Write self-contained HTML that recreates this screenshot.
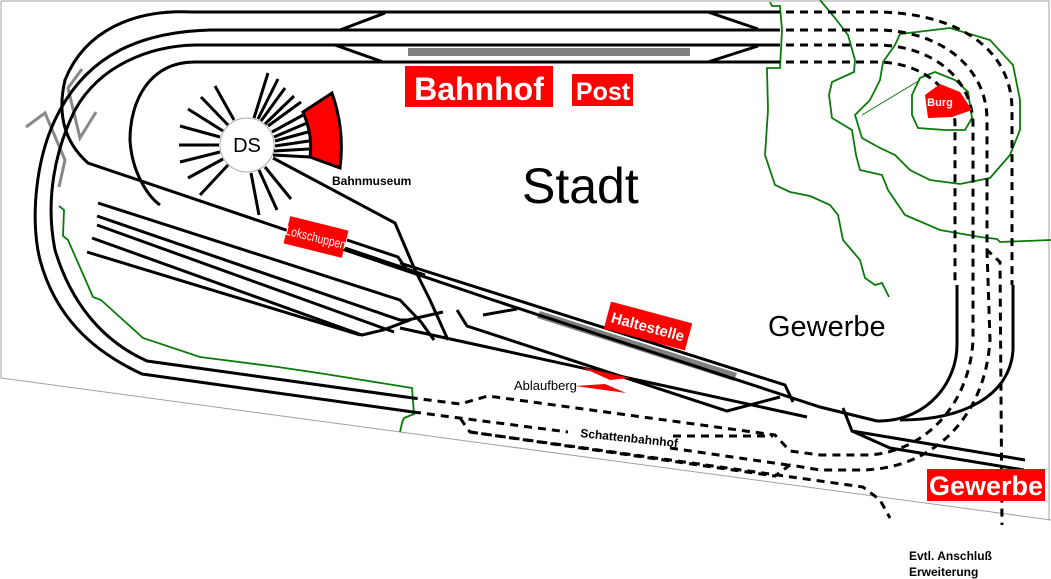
<!DOCTYPE html>
<html><head><meta charset="utf-8"><style>
html,body{margin:0;padding:0;background:#fff;width:1051px;height:579px;overflow:hidden}
svg{display:block}
text{font-family:"Liberation Sans",sans-serif}
</style></head><body>
<svg width="1051" height="579" viewBox="0 0 1051 579" xmlns="http://www.w3.org/2000/svg">
<g stroke="#a0a0a0" stroke-width="1" fill="none">
<path d="M1,1 L1049,1 L1049,520 M1,1 L1,378 L1051,520"/>
</g>
<g stroke="#0a7a0a" stroke-width="1.8" fill="none">
<path d="M59,206 L64,210 L63,236 L68,240 L93,297 L101,300 L143,338 L200,357 L278,367 L325,374 L412,388 L414,414 L404,418 L402,423 L400,432"/>
<path d="M770,2 L772,6 L780,6 L782,30 L780,68 L767,68 L767,70 L768,110 L765,155 L775,185 L790,192 L810,196 L830,205 L838,215 L843,240 L860,260 L865,278 L875,285 L882,283 L889,297"/>
<path d="M820,0 L835,18 L848,35 L855,60 L854,72 L832,82 L829,95 L832,118 L852,130 L856,155 L860,170 L882,175 L888,190 L905,215 L940,230 L980,237 L997,239 L1000,242 L1051,240"/>
<path d="M900,34 L950,28 L990,40 L1013,65 L1020,100 L1020,130 L1010,155 L990,178 L960,184 L930,180 L910,170 L895,155 L880,148 L862,138 L855,115 L870,100 L880,80 L883,62 L895,45 Z"/>
<path d="M920,78 L935,72 L955,80 L968,92 L972,118 L965,130 L945,130 L918,128 L912,115 L912,95 Z"/>
<path d="M862,115 L920,80" stroke-width="1"/>
</g>
<g stroke="#888" stroke-width="3" fill="none">
<path d="M26,127 L45,113 L65,160 L59,187"/>
<path d="M82,69 L68,88 L80,138 L96,112"/>
</g>
<rect x="408" y="48" width="282" height="8" fill="#808080"/>
<polygon points="537,318 540,311 737,373 734,381" fill="#808080"/>
<g stroke="#000" stroke-width="3" fill="none" stroke-linecap="butt">
<path d="M192,12 L772,12 M210,30 L772,30 M195,45 L772,45 M195,62 L772,62"/>
<path d="M340,30 L385,13 M335,45 L383,62 M708,12 L758,29 M708,62 L758,46"/>
<path d="M192,12 C135,9 85,30 65,80 C58,110 62,140 88,163 L493,300 L820,407 L877,421"/>
<path d="M210,30 C140,32 90,55 60,110 C35,155 30,220 40,260 C55,315 90,350 142,374 L413,412"/>
<path d="M195,45 C150,46 100,65 75,110 C55,150 45,200 55,250 C70,300 100,340 147,361 L413,398"/>
<path d="M195,62 C150,62 130,100 130,140 C132,175 150,198 160,205"/>
<path d="M273,158 L395,223 L415,270 L430,300 L448,340"/>
<path d="M98,203 L400,300 L421,322 L434,340"/>
<path d="M97,216 L400,320 L408,320 L443,312"/>
<path d="M97,225 L394,332"/>
<path d="M92,238 L362,335 L383,330 L410,320"/>
<path d="M87,252 L360,335"/>
<path d="M347,240 L398,257 L407,270 M345,248 L425,275"/>
<path d="M400,263 L785,385 L793,402"/>
<path d="M457,310 L467,326 L727,411 L780,397"/>
<path d="M400,328 L807,417"/>
<path d="M483,315 L517,309"/>
<path d="M843,408 L852,431 L1025,460"/>
<path d="M852,431 L890,448 L1024,470"/>
<path d="M957,285 L957,345 C957,380 930,420 880,421 L877,421"/>
<path d="M1013,285 L1013,350 C1010,395 965,420 900,420"/>
</g>
<g stroke="#000" stroke-width="3" fill="none" stroke-dasharray="8,6">
<path d="M772,12 L880,12 C960,14 1012,50 1012,110 L1012,285"/>
<path d="M772,30 L880,30 C945,32 987,70 987,120 L987,250 L1000,262 L1002,525"/>
<path d="M772,45 L880,45 C935,47 973,80 973,125 L973,340 C970,400 930,450 870,455 L820,455 L790,451 L775,435 L488,396 L460,404 L413,398"/>
<path d="M772,62 L880,62 C925,64 955,90 955,125 L955,285"/>
<path d="M987,250 L990,340 C985,420 930,470 860,470 L820,470 L790,465 L775,476 L470,432 L460,418"/>
<path d="M413,412 L568,432 M673,436 L773,436 M670,448 L788,465"/>
<path d="M470,432 L863,487 L880,500 L890,518"/>
</g>
<g stroke="#000" stroke-width="3" fill="none">
<path d="M247,145 m-28,0 l-40,0 M247,145 m-27,-8 l-40,-11 M247,145 m-24,-14 l-35,-22 M247,145 m-19,-20 l-27,-28 M247,145 m-13,-25 l-19,-34
M247,145 m7,-27 l14,-45 M247,145 m11,-26 l20,-40 M247,145 m14,-24 l24,-33 M247,145 m18,-21 l29,-28 M247,145 m21,-19 l33,-24
M247,145 m4,28 l8,42 M247,145 m12,25 l18,40 M247,145 m18,22 l26,32 M247,145 m-19,20 l-28,30 M247,145 m-24,14 l-35,19 M247,145 m-27,7 l-40,10
M272,132 L305,114 M274,137 L307,123 M275,141 L308,132 M275,146 L309,141 M274,151 L309,149 M273,155 L310,157"/>
</g>
<path d="M303,112 L332,93 Q345,130 340,168 L310,157 Q313,135 303,112 Z" fill="#f00" stroke="#000" stroke-width="3"/>
<circle cx="247" cy="145" r="27" fill="#fff" stroke="#aaa" stroke-width="1"/>
<text x="247" y="152" font-size="20" text-anchor="middle">DS</text>
<text x="332" y="185" font-size="12" font-weight="bold">Bahnmuseum</text>
<rect x="405" y="66" width="148" height="41" fill="#f00"/>
<text x="479" y="100" font-size="32" font-weight="bold" fill="#fff" text-anchor="middle">Bahnhof</text>
<rect x="572" y="74" width="61" height="32" fill="#f00"/>
<text x="603" y="100" font-size="25" font-weight="bold" fill="#fff" text-anchor="middle">Post</text>
<g transform="translate(316,237) rotate(14)">
<rect x="-30" y="-14" width="60" height="28" fill="#f00"/>
<text x="0" y="5" font-size="13" fill="#fff" text-anchor="middle" transform="scale(0.8,1)">Lokschuppen</text>
</g>
<g transform="translate(648,326) rotate(15)">
<rect x="-42" y="-14" width="84" height="28" fill="#f00"/>
<text x="0" y="6" font-size="15" font-weight="bold" fill="#fff" text-anchor="middle">Haltestelle</text>
</g>
<polygon points="925,95 940,84 960,92 972,110 952,117 928,118" fill="#f00"/>
<text x="940" y="106" font-size="11" font-weight="bold" fill="#fff" text-anchor="middle">Burg</text>
<rect x="927" y="469" width="118" height="32" fill="#f00"/>
<text x="986" y="495" font-size="27" font-weight="bold" fill="#fff" text-anchor="middle">Gewerbe</text>
<polygon points="581,367 630,378 610,380" fill="#f00"/>
<polygon points="575,386 626,393 605,384" fill="#f00"/>
<text x="522" y="203" font-size="50">Stadt</text>
<text x="768" y="336" font-size="29">Gewerbe</text>
<text x="514" y="390" font-size="13">Ablaufberg</text>
<text x="580" y="437" font-size="12" font-weight="bold" transform="rotate(6 580 437)">Schattenbahnhof</text>
<text x="909" y="560" font-size="12" font-weight="bold">Evtl. Anschluß</text>
<text x="909" y="576" font-size="12" font-weight="bold">Erweiterung</text>
</svg>
</body></html>
